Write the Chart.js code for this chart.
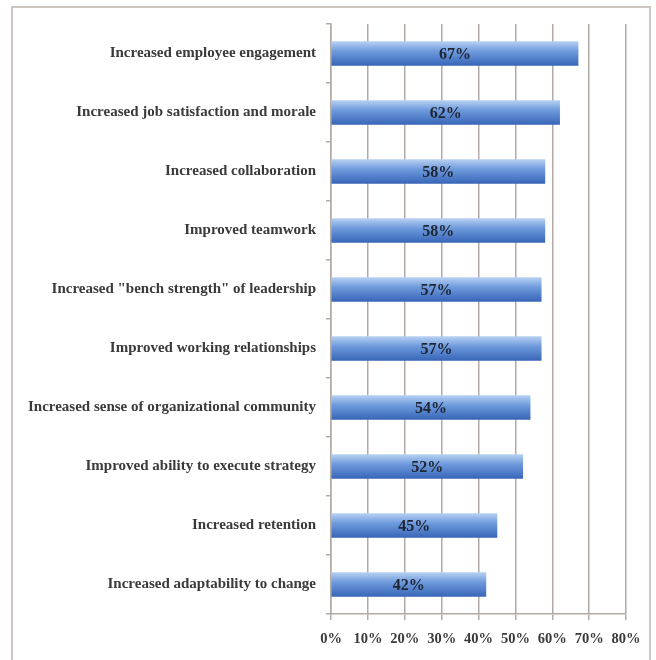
<!DOCTYPE html>
<html lang="en">
<head>
<meta charset="UTF-8">
<title>Benefits chart</title>
<style>
  html, body { margin: 0; padding: 0; background: #fff; }
  #wrap { position: relative; width: 656px; height: 660px; overflow: hidden; }
  #frame { position: absolute; left: 11px; top: 6px; width: 640px; height: 700px; border: 2px solid #cdc5c2; box-sizing: border-box; }
  canvas { position: absolute; left: 0; top: 0; }
</style>
</head>
<body>
<div id="wrap">
  <div id="frame"></div>
  <canvas id="myChart" width="656" height="660"></canvas>
</div>
<script src="https://cdn.jsdelivr.net/npm/chart.js"></script>
<script>
  const categorias = [
    'Increased employee engagement',
    'Increased job satisfaction and morale',
    'Increased collaboration',
    'Improved teamwork',
    'Increased "bench strength" of leadership',
    'Improved working relationships',
    'Increased sense of organizational community',
    'Improved ability to execute strategy',
    'Increased retention',
    'Increased adaptability to change'
  ];
  const valores = [67, 62, 58, 58, 57, 57, 54, 52, 45, 42];
  const ticksX = [0, 10, 20, 30, 40, 50, 60, 70, 80];

  const fonte = "'Liberation Serif', 'DejaVu Serif', serif";
  const corGrade = '#b3aaa6';
  const espessura = 24;

  // rótulos dentro das barras
  const rotulos = {
    id: 'rotulos',
    afterDatasetsDraw(chart) {
      const ctx = chart.ctx;
      const meta = chart.getDatasetMeta(0);
      ctx.save();
      ctx.font = 'bold 16px ' + fonte;
      ctx.fillStyle = '#1e2533';
      ctx.textAlign = 'center';
      ctx.textBaseline = 'middle';
      meta.data.forEach((bar, i) => {
        const x = (bar.base + bar.x) / 2;
        ctx.fillText(valores[i] + '%', x, bar.y + 1);
      });
      ctx.restore();
    }
  };

  // degradê vertical em cada barra
  function gradiente(context) {
    const chart = context.chart;
    const y = chart.scales && chart.scales.y;
    if (!chart.chartArea || !y || context.dataIndex === undefined) return '#4a7fcb';
    const cy = y.getPixelForValue(context.dataIndex);
    const g = chart.ctx.createLinearGradient(0, cy - espessura / 2, 0, cy + espessura / 2);
    g.addColorStop(0, '#b6d0f1');
    g.addColorStop(0.4, '#6f9bdd');
    g.addColorStop(1, '#3866b8');
    return g;
  }

  const ctx = document.getElementById('myChart').getContext('2d');
  new Chart(ctx, {
    type: 'bar',
    data: {
      labels: categorias,
      datasets: [{
        data: valores,
        backgroundColor: gradiente,
        borderWidth: 0,
        barThickness: espessura
      }]
    },
    options: {
      indexAxis: 'y',
      responsive: false,
      animation: false,
      layout: { padding: { top: 24, right: 30, left: 0, bottom: 0 } },
      plugins: {
        legend: { display: false },
        tooltip: { enabled: false }
      },
      scales: {
        x: {
          min: 0,
          max: 80,
          afterBuildTicks(scale) { scale.ticks = ticksX.map(v => ({ value: v })); },
          afterFit(scale) { scale.height = 46; },
          ticks: {
            callback: v => v + '%',
            color: '#3a3a3a',
            padding: 11,
            font: { family: fonte, size: 14.5, weight: 'bold' }
          },
          grid: { color: corGrade, lineWidth: 1.5, tickLength: 6, tickColor: corGrade },
          border: { color: corGrade, width: 1.5 }
        },
        y: {
          afterFit(scale) { scale.width = 331; },
          ticks: {
            color: '#3a3a3a',
            padding: 10,
            font: { family: fonte, size: 15, weight: 'bold' }
          },
          grid: { drawOnChartArea: false, tickLength: 5, color: corGrade, lineWidth: 1.5 },
          border: { color: corGrade, width: 1.5 }
        }
      }
    },
    plugins: [rotulos]
  });
</script>
</body>
</html>
